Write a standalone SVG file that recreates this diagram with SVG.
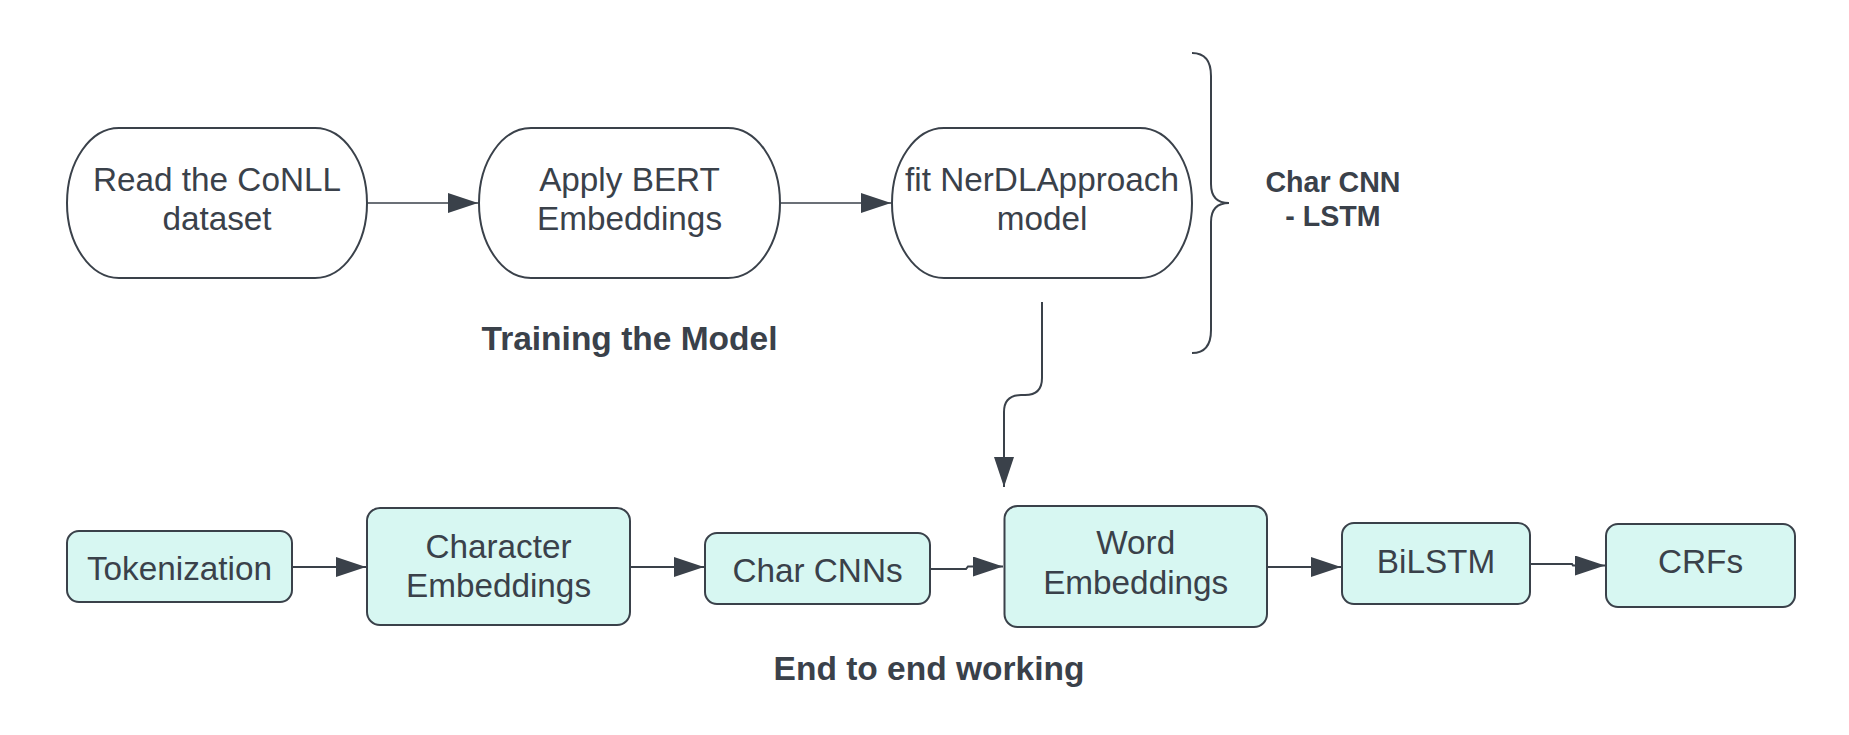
<svg xmlns="http://www.w3.org/2000/svg" width="1849" height="735" viewBox="0 0 1849 735">
<style>
  .pill { fill: #ffffff; stroke: #3a414a; stroke-width: 2; }
  .box { fill: #d7f7f2; stroke: #3a414a; stroke-width: 2; }
  .t { font-family: "Liberation Sans", Arial, sans-serif; font-size: 33.3px; fill: #3a414a; text-anchor: middle; }
  .b { font-family: "Liberation Sans", Arial, sans-serif; font-weight: bold; fill: #3a414a; text-anchor: middle; }
  .c { fill: none; stroke: #3a414a; stroke-width: 2; }
  .c1 { fill: none; stroke: #3a414a; stroke-width: 1.5; }
</style>
<defs>
  <marker id="arr" markerUnits="userSpaceOnUse" markerWidth="31" markerHeight="20" refX="30" refY="10" orient="auto" viewBox="0 0 31 20">
    <path d="M0,0 L30,10 L0,20 Z" fill="#3a414a"/>
  </marker>
</defs>
<rect width="1849" height="735" fill="#ffffff"/>

<g id="connectors">
  <path class="c1" d="M367,203 L478,203" marker-end="url(#arr)"/>
  <path class="c1" d="M780,203 L891,203" marker-end="url(#arr)"/>
  <path class="c" d="M1042,302 L1042,378 Q1042,395 1025,395 L1021,395 Q1004,395 1004,412 L1004,487" marker-end="url(#arr)"/>
  <path class="c" d="M292,567 L366,567" marker-end="url(#arr)"/>
  <path class="c" d="M630,567 L704,567" marker-end="url(#arr)"/>
  <path class="c" d="M930,569 L966,569 L968,566.5 L1003,566.5" marker-end="url(#arr)"/>
  <path class="c" d="M1267,567 L1341,567" marker-end="url(#arr)"/>
  <path class="c" d="M1530,564 L1572,564 L1573,565.5 L1605,565.5" marker-end="url(#arr)"/>
  <path class="c" d="M1192,53 Q1211,53 1211,76 L1211,184 Q1211,203 1229,203 Q1211,203 1211,222 L1211,330 Q1211,353 1192,353"/>
</g>

<g id="n-read">
  <rect class="pill" x="67" y="128" width="300" height="150" rx="52" ry="75"/>
  <text class="t" x="217" y="191">Read the CoNLL</text>
  <text class="t" x="217" y="230">dataset</text>
</g>
<g id="n-bert">
  <rect class="pill" x="479" y="128" width="301" height="150" rx="52" ry="75"/>
  <text class="t" x="629.5" y="191">Apply BERT</text>
  <text class="t" x="629.5" y="230">Embeddings</text>
</g>
<g id="n-fit">
  <rect class="pill" x="892" y="128" width="300" height="150" rx="52" ry="75"/>
  <text class="t" x="1042" y="191">fit NerDLApproach</text>
  <text class="t" x="1042" y="230">model</text>
</g>
<g id="lbl-charcnn">
  <text class="b" font-size="28.6" x="1333" y="192">Char CNN</text>
  <text class="b" font-size="28.6" x="1333" y="226">- LSTM</text>
</g>
<g id="lbl-training">
  <text class="b" font-size="33.5" x="629.5" y="350">Training the Model</text>
</g>

<g id="n-token">
  <rect class="box" x="67" y="531" width="225" height="71" rx="12"/>
  <text class="t" x="179.5" y="580">Tokenization</text>
</g>
<g id="n-charemb">
  <rect class="box" x="367" y="508" width="263" height="117" rx="13"/>
  <text class="t" x="498.5" y="558">Character</text>
  <text class="t" x="498.5" y="597">Embeddings</text>
</g>
<g id="n-charcnns">
  <rect class="box" x="705" y="533" width="225" height="71" rx="12"/>
  <text class="t" x="817.5" y="582">Char CNNs</text>
</g>
<g id="n-wordemb">
  <rect class="box" x="1004.5" y="506" width="262.5" height="121" rx="13"/>
  <text class="t" x="1135.7" y="554">Word</text>
  <text class="t" x="1135.7" y="594">Embeddings</text>
</g>
<g id="n-bilstm">
  <rect class="box" x="1342" y="523" width="188" height="81" rx="12"/>
  <text class="t" x="1436" y="573">BiLSTM</text>
</g>
<g id="n-crfs">
  <rect class="box" x="1606" y="524" width="189" height="83" rx="12"/>
  <text class="t" x="1700.5" y="573">CRFs</text>
</g>
<g id="lbl-e2e">
  <text class="b" font-size="33.5" x="929" y="680">End to end working</text>
</g>
</svg>
